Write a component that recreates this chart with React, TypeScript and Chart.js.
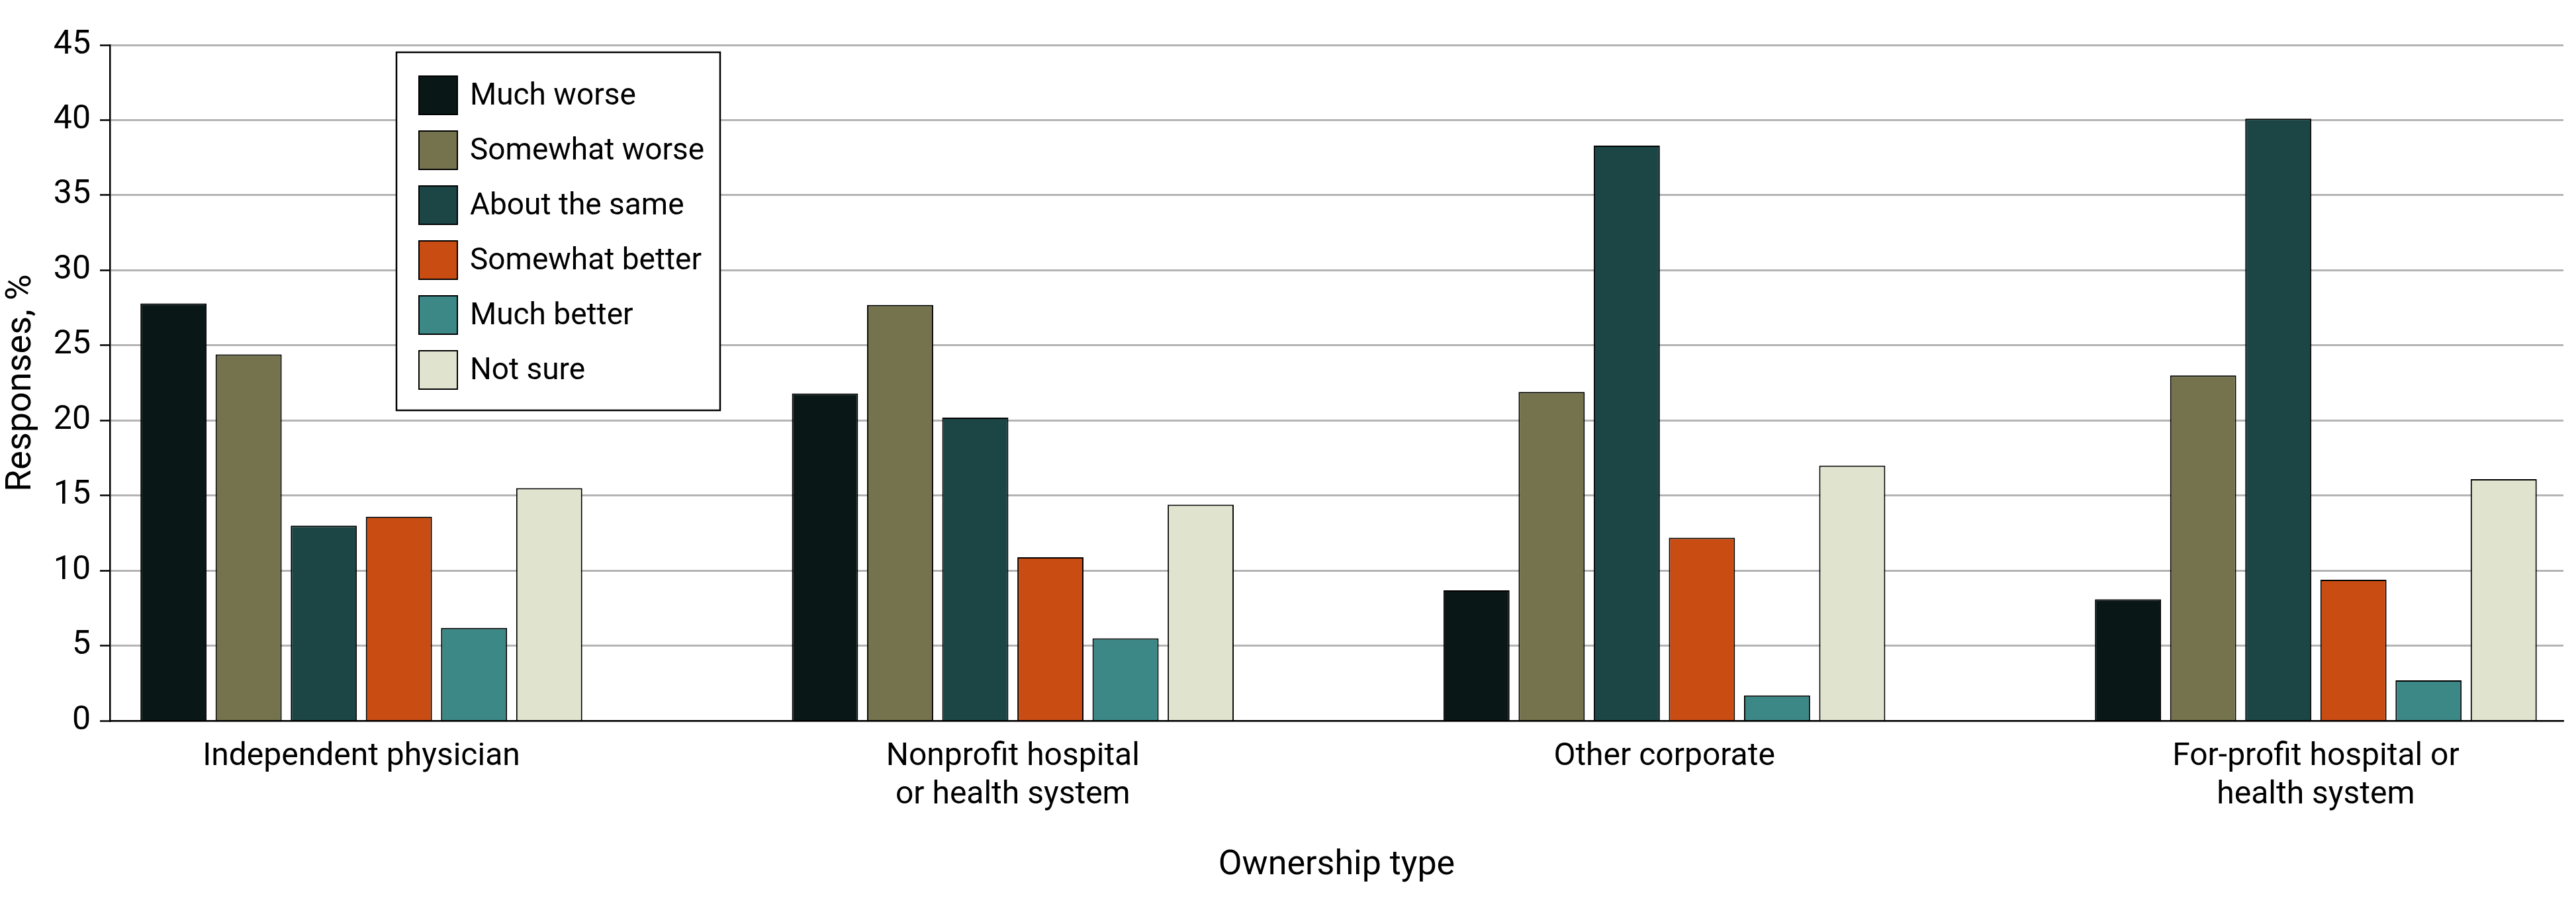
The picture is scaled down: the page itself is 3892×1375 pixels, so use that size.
import { useEffect, useRef } from 'react'
import { Chart, registerables } from 'chart.js'

Chart.register(...registerables)
Chart.defaults.font.family = 'Roboto, "Liberation Sans", sans-serif'

// categories (multi-line labels as arrays)
const categories = [
  'Independent physician',
  ['Nonprofit hospital', 'or health system'],
  'Other corporate',
  ['For-profit hospital or', 'health system'],
]

const seriesNames = ['Much worse', 'Somewhat worse', 'About the same', 'Somewhat better', 'Much better', 'Not sure']

// values, % of responses
const muchWorse = [27.8, 21.8, 8.7, 8.1]
const somewhatWorse = [24.4, 27.7, 21.9, 23.0]
const aboutSame = [13.0, 20.2, 38.3, 40.1]
const somewhatBetter = [13.6, 10.9, 12.2, 9.4]
const muchBetter = [6.2, 5.5, 1.7, 2.7]
const notSure = [15.5, 14.4, 17.0, 16.1]

const seriesValues = [muchWorse, somewhatWorse, aboutSame, somewhatBetter, muchBetter, notSure]
const seriesColors = ['#091816', '#74734d', '#1c4645', '#c94d12', '#3c8887', '#e0e3cd']

const yMin = 0
const yMax = 45
const yStep = 5

// legend drawn as a framed box inside the plot area
const boxLegend = {
  id: 'boxLegend',
  afterDraw (chart) {
    const { ctx, chartArea } = chart
    const x = chartArea.left + 433
    const y = chartArea.top + 11
    const w = 489
    const h = 541
    ctx.save()
    ctx.fillStyle = '#fff'
    ctx.fillRect(x, y, w, h)
    ctx.strokeStyle = '#000'
    ctx.lineWidth = 2.5
    ctx.strokeRect(x, y, w, h)
    ctx.font = '46px Roboto, "Liberation Sans", sans-serif'
    ctx.textBaseline = 'middle'
    chart.data.datasets.forEach((ds, i) => {
      const sy = y + 36 + i * 83
      ctx.fillStyle = ds.backgroundColor
      ctx.fillRect(x + 34, sy, 58, 58)
      ctx.lineWidth = 2
      ctx.strokeStyle = '#000'
      ctx.strokeRect(x + 34, sy, 58, 58)
      ctx.fillStyle = '#000'
      ctx.fillText(ds.label, x + 111, sy + 31)
    })
    ctx.restore()
  },
}

export default function App () {
  const canvasRef = useRef(null)
  const chartRef = useRef(null)

  useEffect(() => {
    if (chartRef.current) chartRef.current.destroy()
    const ctx = canvasRef.current.getContext('2d')

    chartRef.current = new Chart(ctx, {
      type: 'bar',
      data: {
        labels: categories,
        datasets: seriesNames.map((name, i) => ({
          label: name,
          data: seriesValues[i],
          backgroundColor: seriesColors[i],
          borderColor: '#000',
          borderWidth: 2,
          barPercentage: 0.88,
          categoryPercentage: 0.692,
        })),
      },
      options: {
        animation: false,
        responsive: true,
        maintainAspectRatio: false,
        devicePixelRatio: 1,
        layout: { padding: { top: 68, right: 19, bottom: 0, left: 0 } },
        plugins: {
          legend: { display: false },
          tooltip: { enabled: false },
        },
        scales: {
          x: {
            // groups sit closer to the ends than a plain category offset gives
            afterBuildTicks: (s) => {
              s._startValue = -0.386
              s._valueRange = 3.766
            },
            grid: { display: false, drawTicks: false },
            border: { color: '#000', width: 2.5 },
            ticks: {
              color: '#000',
              padding: 26,
              maxRotation: 0,
              autoSkip: false,
              font: { size: 48 },
            },
            title: {
              display: true,
              text: 'Ownership type',
              color: '#000',
              font: { size: 52 },
              padding: { top: 20, bottom: 36 },
            },
          },
          y: {
            min: yMin,
            max: yMax,
            afterFit: (s) => { s.width = 166 },
            grid: { color: '#b4b4b4', lineWidth: 3, tickColor: '#000', tickLength: 15, tickWidth: 2.5 },
            border: { color: '#000', width: 2.5 },
            ticks: {
              stepSize: yStep,
              color: '#000',
              padding: 14,
              font: { size: 50 },
            },
            title: {
              display: true,
              text: 'Responses, %',
              color: '#000',
              font: { size: 54 },
              padding: { top: 0, bottom: 0 },
            },
          },
        },
      },
      plugins: [boxLegend],
    })

    return () => {
      if (chartRef.current) {
        chartRef.current.destroy()
        chartRef.current = null
      }
    }
  }, [])

  return (
    <div style={{ position: 'absolute', left: 0, top: 0, width: 3892, height: 1375, background: '#fff' }}>
      <canvas ref={canvasRef} />
    </div>
  )
}
